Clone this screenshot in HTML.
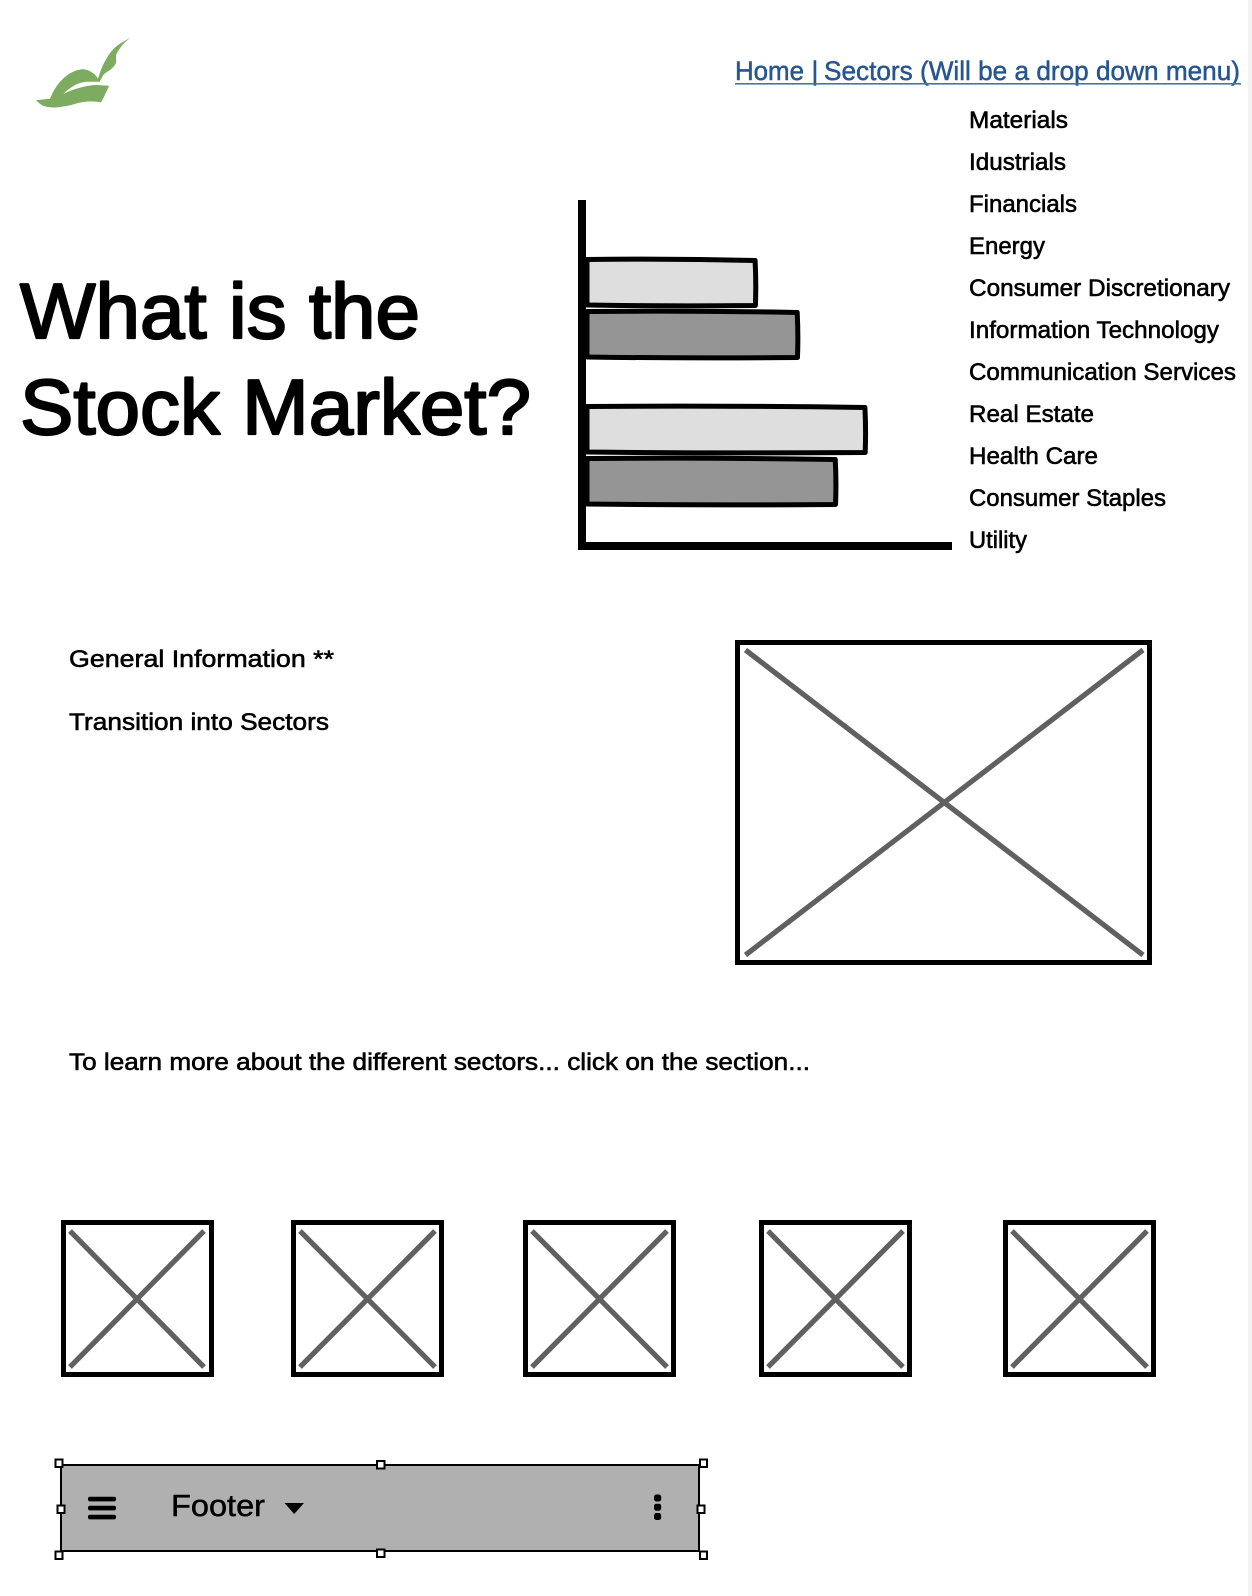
<!DOCTYPE html>
<html lang="en">
<head>
<meta charset="utf-8">
<title>What is the Stock Market? wireframe</title>
<style>
  html, body { margin: 0; padding: 0; background: #fff; }
  svg { display: block; font-family: "Liberation Sans", "DejaVu Sans", sans-serif; }
  .body-text { font-size: 24.5px; fill: #000; stroke: #000; stroke-width: .6px; stroke-linejoin: round; }
  .nav { font-size: 26.5px; fill: #26568f; stroke: #26568f; stroke-width: .5px; stroke-linejoin: round; }
  .title { font-size: 78px; fill: #000; stroke: #000; stroke-width: 2.2px; stroke-linejoin: round; stroke-linecap: round; }
  .box { fill: #fff; stroke: #000; stroke-width: 5; }
  .cross { stroke: #606060; stroke-width: 5.2; fill: none; }
  .handle { fill: #fff; stroke: #000; stroke-width: 2; }
</style>
</head>
<body>
<svg id="page" width="1252" height="1596" viewBox="0 0 1252 1596" xmlns="http://www.w3.org/2000/svg">
  <rect x="0" y="0" width="1252" height="1596" fill="#ffffff"/>
  <rect x="1248" y="0" width="4" height="1596" fill="#f3f3f3"/>

  <g>
    <path fill="#7dac61" d="M36 100.3 L50 98.7 C52 95 54 88 61.7 80 C66 75.5 74 70 81.7 69.3 C88 69 94.5 73 98 78.5 C100 72 103 64 106.7 58.3 C110 52.5 113 49 116.7 46 C121 42.5 127 39.5 131.7 37.3 C128 39.5 125.5 41.5 123.3 44 C120 48 117.5 51.5 116 55 C115.7 58 116.7 60.5 116 62.7 C115 65.5 112.5 68 110 70 C107.5 71.8 105 73 103.3 75 L99.5 82 L109 86 L104 96.7 L101 102.3 C96 101.5 90 101 85 101.7 C78 102.5 73 104.8 66.7 106 C61 107 55 107.8 50 107.3 C46 107 44 106.3 41.7 105 C39.5 103.5 37.5 102 36 100.3 Z"/>
    <path fill="#ffffff" d="M63.3 94 C67 90 71 87.5 75 85 C79 83 83 82 86.7 81.7 L98.7 81.7 L109 85.7 L96.7 85 C91 85 85 86.3 80 87.7 C73 89.5 68 91.5 63.3 94 Z"/>
  </g>

  <text class="nav" x="735" y="80" textLength="69" lengthAdjust="spacingAndGlyphs">Home</text>
  <text class="nav" x="811.5" y="80">|</text>
  <text class="nav" x="824" y="80" textLength="416" lengthAdjust="spacingAndGlyphs">Sectors (Will be a drop down menu)</text>
  <rect x="735" y="83" width="506" height="1.6" fill="#4a72a6"/>

  <g>
    <text class="body-text" x="969" y="128" textLength="99" lengthAdjust="spacingAndGlyphs">Materials</text>
    <text class="body-text" x="969" y="170" textLength="97" lengthAdjust="spacingAndGlyphs">Idustrials</text>
    <text class="body-text" x="969" y="212" textLength="108" lengthAdjust="spacingAndGlyphs">Financials</text>
    <text class="body-text" x="969" y="254" textLength="76" lengthAdjust="spacingAndGlyphs">Energy</text>
    <text class="body-text" x="969" y="296" textLength="261" lengthAdjust="spacingAndGlyphs">Consumer Discretionary</text>
    <text class="body-text" x="969" y="338" textLength="250" lengthAdjust="spacingAndGlyphs">Information Technology</text>
    <text class="body-text" x="969" y="380" textLength="267" lengthAdjust="spacingAndGlyphs">Communication Services</text>
    <text class="body-text" x="969" y="422" textLength="125" lengthAdjust="spacingAndGlyphs">Real Estate</text>
    <text class="body-text" x="969" y="464" textLength="129" lengthAdjust="spacingAndGlyphs">Health Care</text>
    <text class="body-text" x="969" y="506" textLength="197" lengthAdjust="spacingAndGlyphs">Consumer Staples</text>
    <text class="body-text" x="969" y="548" textLength="58" lengthAdjust="spacingAndGlyphs">Utility</text>
  </g>

  <text class="title" x="20" y="338" textLength="400" lengthAdjust="spacingAndGlyphs">What is the</text>
  <text class="title" x="20" y="434" textLength="511" lengthAdjust="spacingAndGlyphs">Stock Market?</text>

  <g id="chart">
    <g id="bars"></g>
    <rect x="578" y="200" width="8" height="350" fill="#000"/>
    <rect x="578" y="542" width="374" height="8" fill="#000"/>
  </g>

  <text class="body-text" x="69" y="667" textLength="265" lengthAdjust="spacingAndGlyphs">General Information **</text>
  <text class="body-text" x="69" y="730" textLength="260" lengthAdjust="spacingAndGlyphs">Transition into Sectors</text>

  <g>
    <rect class="box" x="737.5" y="642.5" width="412" height="320"/>
    <line class="cross" x1="745.5" y1="650" x2="1143" y2="955"/>
    <line class="cross" x1="1143" y1="650" x2="745.5" y2="955"/>
  </g>

  <text class="body-text" x="69" y="1070" textLength="741" lengthAdjust="spacingAndGlyphs">To learn more about the different sectors... click on the section...</text>

  <g>
    <rect class="box" x="63.5" y="1222.5" width="148" height="152"/>
    <line class="cross" x1="70" y1="1231" x2="204" y2="1367"/>
    <line class="cross" x1="204" y1="1231" x2="70" y2="1367"/>
  </g>
  <g>
    <rect class="box" x="293.5" y="1222.5" width="148" height="152"/>
    <line class="cross" x1="300" y1="1231" x2="435" y2="1367"/>
    <line class="cross" x1="435" y1="1231" x2="300" y2="1367"/>
  </g>
  <g>
    <rect class="box" x="525.5" y="1222.5" width="148" height="152"/>
    <line class="cross" x1="532" y1="1231" x2="667" y2="1367"/>
    <line class="cross" x1="667" y1="1231" x2="532" y2="1367"/>
  </g>
  <g>
    <rect class="box" x="761.5" y="1222.5" width="148" height="152"/>
    <line class="cross" x1="768" y1="1231" x2="903" y2="1367"/>
    <line class="cross" x1="903" y1="1231" x2="768" y2="1367"/>
  </g>
  <g>
    <rect class="box" x="1005.5" y="1222.5" width="148" height="152"/>
    <line class="cross" x1="1012" y1="1231" x2="1147" y2="1367"/>
    <line class="cross" x1="1147" y1="1231" x2="1012" y2="1367"/>
  </g>

  <g>
    <rect x="61" y="1465" width="638" height="86" fill="#b0b0b0" stroke="#000" stroke-width="2"/>
    <g fill="#000">
      <rect x="88" y="1496.8" width="28" height="4.6" rx="2"/>
      <rect x="88" y="1505.8" width="28" height="4.6" rx="2"/>
      <rect x="88" y="1514.8" width="28" height="4.6" rx="2"/>
    </g>
    <text x="171" y="1516" font-size="31" fill="#000" stroke="#000" stroke-width=".5" textLength="94" lengthAdjust="spacingAndGlyphs">Footer</text>
    <path d="M284.5 1503 H304 L294.2 1514 Z" fill="#000"/>
    <g fill="#000">
      <rect x="654" y="1494.5" width="7.2" height="7" rx="2.4"/>
      <rect x="654" y="1503.7" width="7.2" height="7" rx="2.4"/>
      <rect x="654" y="1513" width="7.2" height="7" rx="2.4"/>
    </g>
  </g>
  <g>
    <rect class="handle" x="55.5" y="1459.5" width="7" height="7.5"/>
    <rect class="handle" x="377" y="1461" width="7.5" height="7.5"/>
    <rect class="handle" x="700" y="1459.5" width="7" height="7.5"/>
    <rect class="handle" x="57.5" y="1505.5" width="7" height="7.5"/>
    <rect class="handle" x="697.5" y="1505.5" width="7" height="7.5"/>
    <rect class="handle" x="55.5" y="1551.5" width="7" height="7.5"/>
    <rect class="handle" x="377" y="1549.5" width="7.5" height="7.5"/>
    <rect class="handle" x="700" y="1551.5" width="7" height="7.5"/>
  </g>
</svg>
<script>
  // Chart data: wireframe bars (share of x-axis length, 0-100).
  var groups = ['group-1', 'group-2'];
  var lightValues = [46.2, 76.2];
  var darkValues = [57.7, 68.1];

  var SVG_NS = 'http://www.w3.org/2000/svg';
  var axisStart = 586;
  var axisLength = 366;
  var firstBandTop = 259.5;
  var groupStep = 147;
  var barOffset = 52;
  var barHeight = 46;

  function xScale(value) {
    return axisStart + (value / 100) * axisLength;
  }
  function yScale(groupIndex, seriesIndex) {
    return firstBandTop + groupIndex * groupStep + seriesIndex * barOffset;
  }
  function sketchPath(x1, top) {
    var x0 = axisStart + 1;
    var bottom = top + barHeight;
    var mid = (x0 + x1) / 2;
    return 'M' + x0 + ' ' + top +
      ' Q' + mid + ' ' + (top - 1) + ' ' + x1 + ' ' + (top + 1) +
      ' Q' + (x1 + 1.2) + ' ' + (top + barHeight / 2) + ' ' + (x1 + 0.3) + ' ' + bottom +
      ' Q' + mid + ' ' + (bottom + 1) + ' ' + x0 + ' ' + (bottom - 0.5) + ' Z';
  }
  var barLayer = document.getElementById('bars');
  function drawBar(value, groupIndex, seriesIndex, fill) {
    var path = document.createElementNS(SVG_NS, 'path');
    path.setAttribute('d', sketchPath(xScale(value), yScale(groupIndex, seriesIndex)));
    path.setAttribute('fill', fill);
    path.setAttribute('stroke', '#000');
    path.setAttribute('stroke-width', '5');
    path.setAttribute('stroke-linejoin', 'round');
    
    
    barLayer.appendChild(path);
  }
  groups.forEach(function (group, i) {
    drawBar(lightValues[i], i, 0, '#dedede');
    drawBar(darkValues[i], i, 1, '#959595');
  });
</script>
</body>
</html>
